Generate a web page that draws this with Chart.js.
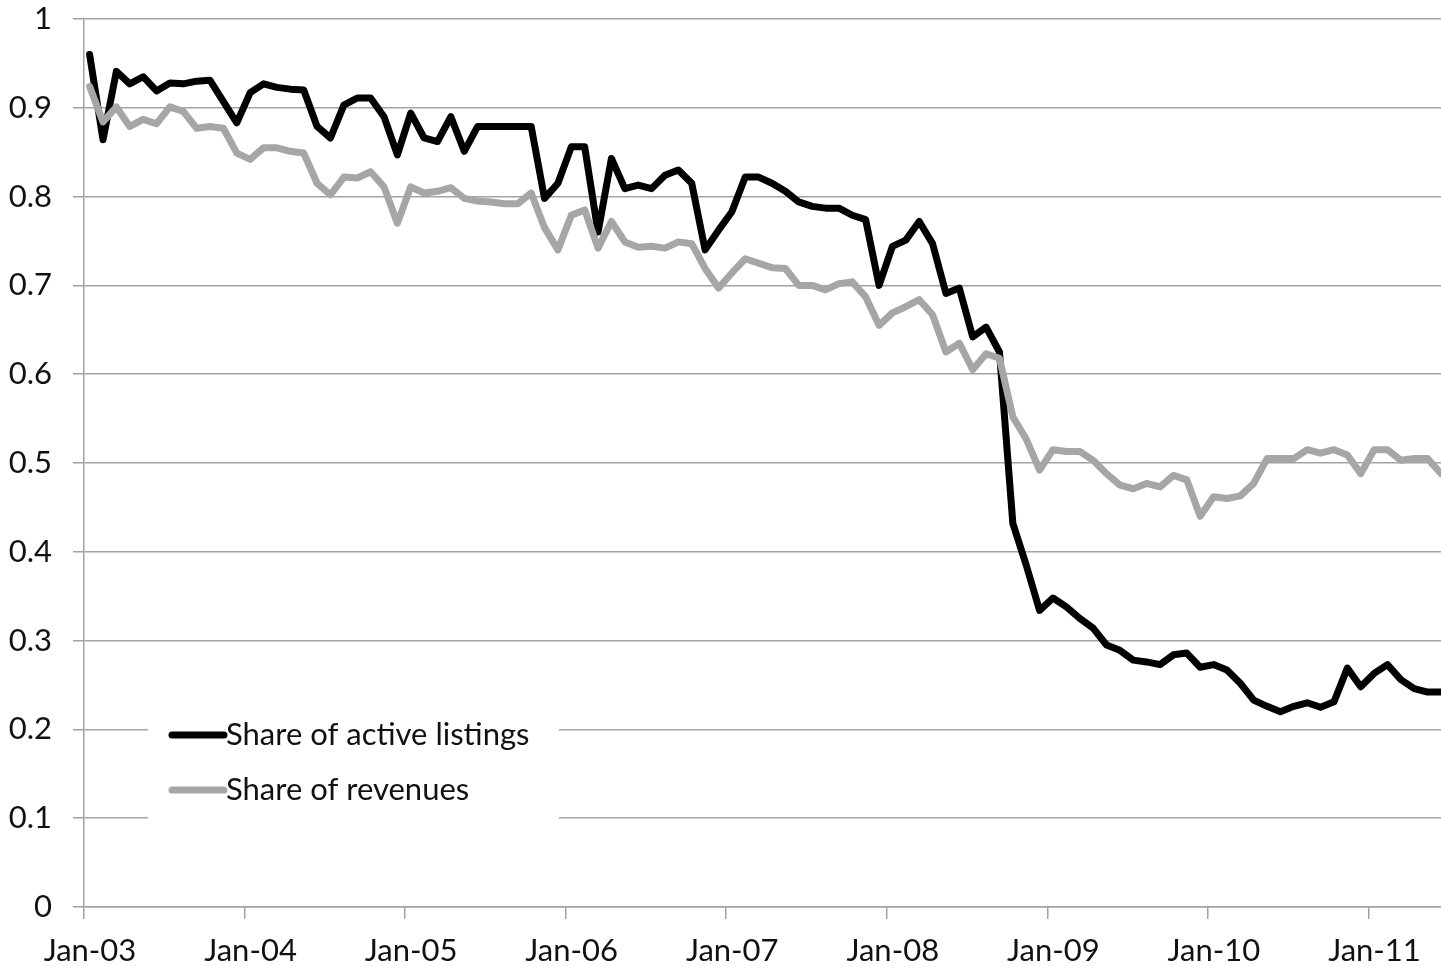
<!DOCTYPE html>
<html lang="en">
<head>
    <meta charset="UTF-8">
    <title>Share of active listings and revenues</title>
    <style>
        body {
            margin: 0;
            padding: 0;
            background-color: #ffffff;
        }

        .chart-container {
            width: 1441px;
            height: 966px;
        }
    </style>
</head>
<body>
    <div class="chart-container">
        <canvas id="share-chart"></canvas>
    </div>

    <script src="https://cdn.jsdelivr.net/npm/chart.js"></script>
    <script>
        // Monthly values, Jan-03 .. Jun-11
        const activeListings = [
            0.960, 0.864, 0.941, 0.927, 0.935, 0.919, 0.928, 0.927, 0.930, 0.931, 0.907, 0.883,
            0.917, 0.927, 0.923, 0.921, 0.920, 0.879, 0.866, 0.903, 0.911, 0.911, 0.890, 0.847,
            0.894, 0.866, 0.862, 0.890, 0.851, 0.879, 0.879, 0.879, 0.879, 0.879, 0.798, 0.815,
            0.856, 0.856, 0.760, 0.843, 0.809, 0.813, 0.809, 0.824, 0.830, 0.815, 0.740, 0.762,
            0.783, 0.822, 0.822, 0.815, 0.806, 0.794, 0.789, 0.787, 0.787, 0.779, 0.774, 0.700,
            0.744, 0.751, 0.772, 0.747, 0.691, 0.697, 0.642, 0.653, 0.625, 0.432, 0.385, 0.334,
            0.348, 0.338, 0.325, 0.314, 0.295, 0.289, 0.278, 0.276, 0.273, 0.284, 0.286, 0.270,
            0.273, 0.267, 0.252, 0.233, 0.226, 0.220, 0.226, 0.230, 0.225, 0.231, 0.269, 0.248,
            0.263, 0.273, 0.256, 0.246, 0.242, 0.242
        ];

        const revenues = [
            0.924, 0.884, 0.901, 0.879, 0.887, 0.882, 0.901, 0.896, 0.877, 0.879, 0.877, 0.849,
            0.842, 0.855, 0.855, 0.851, 0.849, 0.815, 0.802, 0.822, 0.821, 0.828, 0.811, 0.770,
            0.811, 0.804, 0.806, 0.810, 0.798, 0.795, 0.794, 0.792, 0.792, 0.804, 0.765, 0.740,
            0.779, 0.785, 0.742, 0.772, 0.749, 0.743, 0.744, 0.742, 0.749, 0.747, 0.719, 0.697,
            0.714, 0.730, 0.725, 0.720, 0.719, 0.700, 0.700, 0.695, 0.702, 0.704, 0.687, 0.655,
            0.669, 0.676, 0.684, 0.667, 0.625, 0.635, 0.605, 0.623, 0.618, 0.552, 0.527, 0.492,
            0.515, 0.513, 0.513, 0.503, 0.488, 0.475, 0.471, 0.477, 0.473, 0.486, 0.481, 0.440,
            0.462, 0.460, 0.463, 0.477, 0.505, 0.505, 0.505, 0.515, 0.511, 0.515, 0.509, 0.488,
            0.515, 0.515, 0.503, 0.505, 0.505, 0.488
        ];

        // one label per January on the month axis
        const tickLabels = ['Jan-03', 'Jan-04', 'Jan-05', 'Jan-06', 'Jan-07', 'Jan-08', 'Jan-09', 'Jan-10', 'Jan-11'];
        const seriesNames = ['Share of active listings', 'Share of revenues'];

        // points sit mid-month, axis starts on 1 Jan
        const midMonth = 0.42;
        const toPoints = arr => arr.map((v, i) => ({ x: i + midMonth, y: v }));

        const font = { family: 'Lato, "Open Sans", sans-serif', size: 31 };
        const gridColor = '#a3a3a3';

        // legend drawn inside the plot, over a white box
        const insideLegend = {
            id: 'insideLegend',
            afterDraw(chart) {
                const ctx = chart.ctx;
                const area = chart.chartArea;
                const left = area.left + 64;
                const top = area.bottom - 205;
                ctx.save();
                ctx.fillStyle = '#ffffff';
                ctx.fillRect(left, top, 411, 122);
                ctx.font = font.size + 'px ' + font.family;
                ctx.textBaseline = 'middle';
                ctx.lineCap = 'round';
                chart.data.datasets.forEach((ds, k) => {
                    const y = top + 33 + k * 55;
                    ctx.strokeStyle = ds.borderColor;
                    ctx.lineWidth = 7;
                    ctx.beginPath();
                    ctx.moveTo(left + 24, y);
                    ctx.lineTo(left + 76, y);
                    ctx.stroke();
                    ctx.fillStyle = '#111111';
                    ctx.fillText(ds.label, left + 78, y);
                });
                ctx.restore();
            }
        };

        new Chart(document.getElementById('share-chart'), {
            type: 'line',
            data: {
                datasets: [{
                    label: seriesNames[0],
                    data: toPoints(activeListings),
                    borderColor: '#000000',
                    borderWidth: 7,
                    order: 1
                }, {
                    label: seriesNames[1],
                    data: toPoints(revenues),
                    borderColor: '#a6a6a6',
                    borderWidth: 7,
                    order: 0
                }]
            },
            options: {
                responsive: true,
                maintainAspectRatio: false,
                animation: false,
                layout: { padding: 0 },
                elements: {
                    point: { radius: 0 },
                    line: { tension: 0, borderJoinStyle: 'round', borderCapStyle: 'round' }
                },
                plugins: {
                    legend: { display: false },
                    tooltip: { enabled: false }
                },
                scales: {
                    x: {
                        type: 'linear',
                        min: 0,
                        max: activeListings.length - 1 + midMonth,
                        afterFit: s => { s.height = 59; },
                        border: { color: gridColor, width: 1.5 },
                        grid: { drawOnChartArea: false, color: gridColor, lineWidth: 1.5, tickLength: 12 },
                        ticks: {
                            stepSize: 12,
                            includeBounds: false,
                            autoSkip: false,
                            maxRotation: 0,
                            padding: 13,
                            labelOffset: 6,
                            color: '#111111',
                            font: font,
                            callback: v => tickLabels[v / 12]
                        }
                    },
                    y: {
                        min: 0,
                        max: 1,
                        afterFit: s => {
                            s.width = 84;
                            s.paddingTop = 19;
                            s.paddingBottom = 0;
                        },
                        border: { color: gridColor, width: 1.5 },
                        grid: { color: gridColor, lineWidth: 1.5, tickLength: 11 },
                        ticks: {
                            stepSize: 0.1,
                            padding: 21,
                            color: '#111111',
                            font: font,
                            callback: v => String(Math.round(v * 10) / 10)
                        }
                    }
                }
            },
            plugins: [insideLegend]
        });
    </script>
</body>
</html>
